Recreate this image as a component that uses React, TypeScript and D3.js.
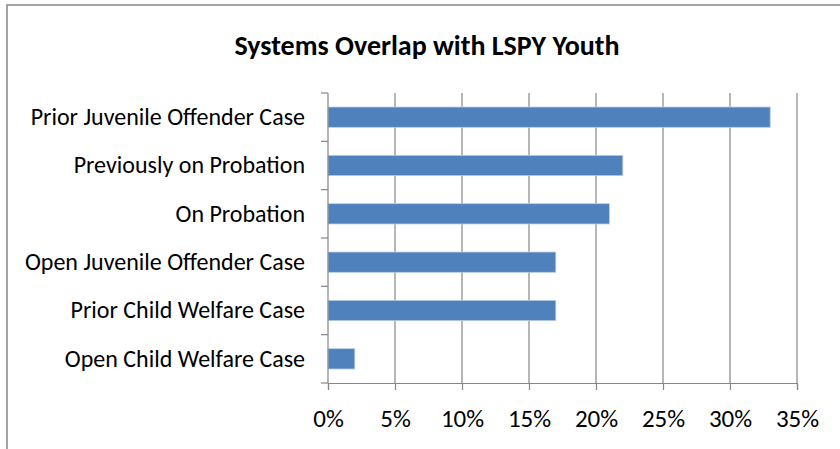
import React, { useRef, useEffect } from 'react';
import * as d3 from 'd3';

const categories = [
  'Prior Juvenile Offender Case',
  'Previously on Probation',
  'On Probation',
  'Open Juvenile Offender Case',
  'Prior Child Welfare Case',
  'Open Child Welfare Case',
];
const values = [0.33, 0.22, 0.21, 0.17, 0.17, 0.02];
const xTicks = [0, 0.05, 0.1, 0.15, 0.2, 0.25, 0.3, 0.35];
const title = 'Systems Overlap with LSPY Youth';

const App = () => {
  const ref = useRef<SVGSVGElement>(null);

  useEffect(() => {
    if (!ref.current) return;
    const svg = d3.select(ref.current);
    svg.selectAll('*').remove();

    const width = 840;
    const height = 449;
    const margin = { top: 93, left: 328, right: 43, bottom: 66 };
    const plotW = width - margin.left - margin.right;
    const plotH = height - margin.top - margin.bottom;
    const font = 'Calibri, Carlito, "Open Sans", sans-serif';

    // outer chart border
    svg
      .append('rect')
      .attr('x', 7)
      .attr('y', 5)
      .attr('width', 850)
      .attr('height', 460)
      .attr('fill', '#fff')
      .attr('stroke', '#868686')
      .attr('stroke-width', 1.5);

    svg
      .append('text')
      .attr('x', 427)
      .attr('y', 55)
      .attr('text-anchor', 'middle')
      .attr('font-family', font)
      .attr('font-weight', 'bold')
      .attr('font-size', 28)
      .attr('fill', '#000')
      .text(title);

    const g = svg.append('g').attr('transform', `translate(${margin.left},${margin.top})`);

    const x = d3.scaleLinear().domain([0, 0.35]).range([0, plotW]);
    const y = d3.scaleBand().domain(categories).range([0, plotH]).paddingInner(0.58).paddingOuter(0.29);
    const band = d3.scaleBand().domain(categories).range([0, plotH]);

    // vertical gridlines
    g.selectAll('line.grid')
      .data(xTicks.slice(1))
      .enter()
      .append('line')
      .attr('class', 'grid')
      .attr('x1', (d) => x(d))
      .attr('x2', (d) => x(d))
      .attr('y1', 0)
      .attr('y2', plotH)
      .attr('stroke', '#868686')
      .attr('stroke-width', 1.2);

    // bars
    g.selectAll('rect.bar')
      .data(values)
      .enter()
      .append('rect')
      .attr('class', 'bar')
      .attr('x', 0)
      .attr('y', (d, i) => y(categories[i]) as number)
      .attr('width', (d) => x(d))
      .attr('height', y.bandwidth())
      .attr('fill', '#4F81BD')
      .attr('stroke', '#B9CDE5')
      .attr('stroke-width', 0.8);

    // x axis
    const xAxis = d3
      .axisBottom(x)
      .tickValues(xTicks)
      .tickSize(7)
      .tickFormat((d) => `${Math.round((d as number) * 100)}%`);
    const xg = g.append('g').attr('transform', `translate(0,${plotH})`).call(xAxis);
    xg.select('.domain').attr('stroke', '#868686').attr('stroke-width', 1.2);
    xg.selectAll('.tick line').attr('stroke', '#868686').attr('stroke-width', 1.2);
    xg.selectAll('.tick text')
      .attr('font-family', font)
      .attr('font-size', 25)
      .attr('fill', '#000')
      .attr('dy', null)
      .attr('y', 44);

    // y axis: ticks between categories
    g.append('line')
      .attr('x1', 0)
      .attr('x2', 0)
      .attr('y1', 0)
      .attr('y2', plotH)
      .attr('stroke', '#868686')
      .attr('stroke-width', 1.2);
    const boundaries = categories.map((c) => band(c) as number).concat([plotH]);
    g.selectAll('line.ytick')
      .data(boundaries)
      .enter()
      .append('line')
      .attr('class', 'ytick')
      .attr('x1', -7)
      .attr('x2', 0)
      .attr('y1', (d) => d)
      .attr('y2', (d) => d)
      .attr('stroke', '#868686')
      .attr('stroke-width', 1.2);

    g.selectAll('text.ylab')
      .data(categories)
      .enter()
      .append('text')
      .attr('class', 'ylab')
      .attr('x', -23)
      .attr('y', (d) => (band(d) as number) + band.bandwidth() / 2)
      .attr('dy', '0.32em')
      .attr('text-anchor', 'end')
      .attr('font-family', font)
      .attr('font-size', 24)
      .attr('fill', '#000')
      .text((d) => d);
  }, []);

  return (
    <svg
      ref={ref}
      width={840}
      height={449}
      style={{ position: 'absolute', left: 0, top: 0, display: 'block' }}
    />
  );
};

export default App;
